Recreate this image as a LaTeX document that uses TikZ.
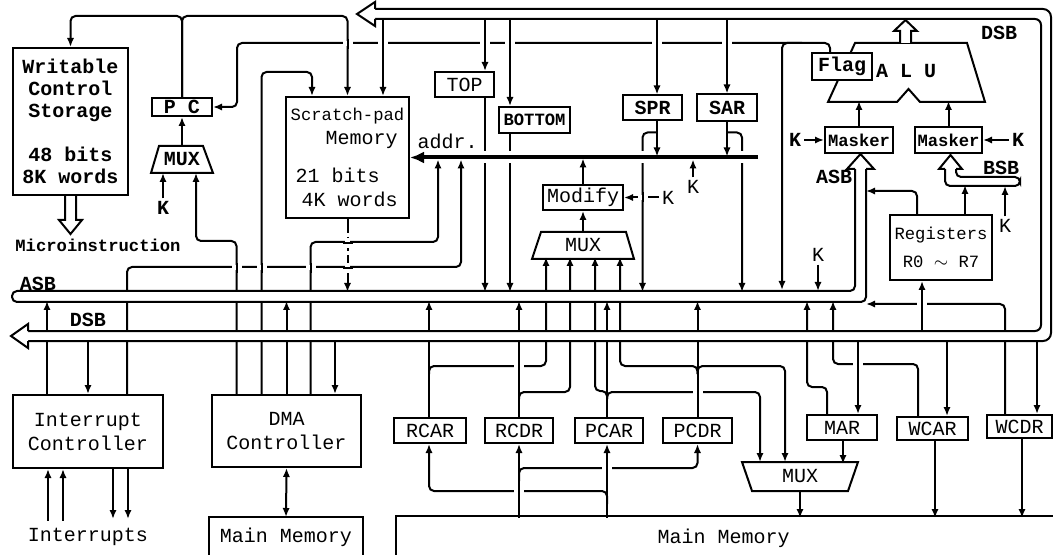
\documentclass[tikz,border=0pt]{standalone}
\usepackage{fontspec}
\setmainfont{Liberation Mono}
\usetikzlibrary{arrows.meta,calc}
\newcommand{\smf}{\fontsize{8.6}{10}\selectfont}
% gaps where two lines cross without joining
\newcommand{\vover}[1]{\fill[white] ($(#1)+(-5,-2.5)$) rectangle ($(#1)+(5,2.5)$);
  \draw ($(#1)+(0,-5)$) -- ($(#1)+(0,5)$);}
\newcommand{\hover}[1]{\fill[white] ($(#1)+(-2.5,-5)$) rectangle ($(#1)+(2.5,5)$);
  \draw ($(#1)+(-5,0)$) -- ($(#1)+(5,0)$);}

\begin{document}
\begin{tikzpicture}[x=0.5pt, y=-0.5pt, line width=1pt, >={Latex[length=4.5pt,width=3.6pt]},
    b/.style={draw, inner sep=0pt, align=center},
    nb/.style={inner sep=0pt, align=center},
    kk/.style={inner sep=1pt, font=\bfseries},
    lk/.style={rounded corners=2.5pt}]
  \useasboundingbox (0,0) rectangle (1053,555);
  \coordinate (asbT) at (0,291);
  \coordinate (bsbB) at (0,186);
  \coordinate (adrB) at (0,159.5);

  % control side
  \node[b, minimum width=57.5pt, minimum height=73.5pt, font=\bfseries\fontsize{10}{11}\selectfont] (wcs) at (70.5,121.5)
    {Writable\\ Control\\ Storage\\[11pt] 48 bits\\ 8K words};
  \node[nb, font=\smf\bfseries] (mi) at (98,245) {Microinstruction};
  \node[b, minimum width=30pt, minimum height=9pt, font=\bfseries] (pc) at (182,107) {P C};
  \node[nb, minimum width=30pt, minimum height=12.5pt, font=\bfseries] (mux1) at (182,159.5) {MUX};
  \node[kk] (k1) at (163,208) {K};
  \node[b, minimum width=61.5pt, minimum height=60.5pt, align=left] (sp) at (347.5,157.5)
    {\smf Scratch-pad\\\hspace*{17.5pt}Memory\\[7pt]\normalsize\hspace*{2.5pt}21 bits\\\hspace*{5.5pt}4K words};
  \node[nb] (addr) at (447.5,141) {addr.};
  \node[b, minimum width=29.5pt, minimum height=12.5pt] (topreg) at (464.5,84.5) {TOP};
  \node[b, minimum width=35.5pt, minimum height=13pt, font=\smf\bfseries] (botreg) at (534.5,120) {BOTTOM};
  \node[b, minimum width=29.5pt, minimum height=12.5pt, font=\bfseries] (spr) at (652.5,108) {SPR};
  \node[b, minimum width=30pt, minimum height=13.5pt, font=\bfseries] (sar) at (727,108) {SAR};
  \node[b, minimum width=40pt, minimum height=12.5pt] (modify) at (583,197.5) {Modify};
  \node[nb, minimum width=50pt, minimum height=12.5pt] (mux2) at (583,245.5) {MUX};
  \node[kk, font=\normalfont] (k2) at (668,197.5) {K};
  \node[kk, font=\normalfont] (k3) at (693,187) {K};

  % ALU side
  \node[nb, font=\bfseries] (alu) at (906,71) {A L U};
  \draw (855,43) -- (967,43) -- (985,102) -- (920,102) -- (908.5,89) -- (897,102) -- (828,102) -- cycle;
  \node[b, fill=white, minimum width=30pt, minimum height=13.5pt, font=\bfseries] (flag) at (842,66.5) {Flag};
  \node[b, minimum width=34pt, minimum height=13pt, font=\smf\bfseries] (maskL) at (859,140) {Masker};
  \node[b, minimum width=33.5pt, minimum height=13pt, font=\smf\bfseries] (maskR) at (948.5,140) {Masker};
  \node[kk] (k4) at (795,140) {K};
  \node[kk] (k6) at (1018,140) {K};
  \node[b, minimum width=51pt, minimum height=32.5pt, font=\smf] (regs) at (941,247.5) {Registers\\[4pt]R0 $\sim$ R7};
  \node[kk, font=\normalfont] (k7) at (1005,226) {K};
  \node[kk, font=\normalfont] (k5) at (818,255) {K};

  % bus names
  \node[nb, font=\bfseries] (asbL) at (38,284) {ASB};
  \node[nb, font=\bfseries] (dsbL) at (88,320) {DSB};
  \node[nb, font=\bfseries] (dsbR) at (999,33) {DSB};
  \node[nb, font=\bfseries] (asbR) at (834,177) {ASB};
  \node[nb, font=\bfseries] (bsb) at (1001,168) {BSB};

  % lower part
  \node[b, minimum width=75pt, minimum height=36.5pt] (ic) at (88,431.5) {Interrupt\\Controller};
  \node[b, minimum width=74.5pt, minimum height=36pt] (dma) at (286.5,431) {DMA\\Controller};
  \node[nb] (intr) at (88,537) {Interrupts};
  \node[nb, minimum width=76pt, minimum height=19.5pt] (mm1) at (286,537.5) {Main Memory};
  \node[nb, minimum width=331.5pt, minimum height=21.5pt] (mm2) at (728.5,538.5) {Main Memory\hspace*{5pt}};
  \node[b, minimum width=36pt, minimum height=12.5pt] (rcar) at (430,430.5) {RCAR};
  \node[b, minimum width=34pt, minimum height=12.5pt] (rcdr) at (519,430.5) {RCDR};
  \node[b, minimum width=34pt, minimum height=12.5pt] (pcar) at (609,430.5) {PCAR};
  \node[b, minimum width=34.5pt, minimum height=12.5pt] (pcdr) at (697.5,430.5) {PCDR};
  \node[b, minimum width=35pt, minimum height=12.5pt] (mar) at (842,427.5) {MAR};
  \node[b, minimum width=35.5pt, minimum height=11.5pt] (wcar) at (932.5,428.5) {WCAR};
  \node[b, minimum width=32.5pt, minimum height=11.5pt] (wcdr) at (1019.5,426.5) {WCDR};
  \node[nb, minimum width=57pt, minimum height=13.5pt] (mux3) at (800,476.5) {MUX};

  % outlines
  \draw (mux1.south west) -- ($(mux1.north west)+(8,0)$) -- ($(mux1.north east)+(-10,0)$) -- (mux1.south east) -- cycle;
  \draw (mux2.south west) -- ($(mux2.north west)+(9,0)$) -- ($(mux2.north east)+(-8,0)$) -- (mux2.south east) -- cycle;
  \draw (mux3.north west) -- (mux3.north east) -- ($(mux3.south east)+(-10,0)$) -- ($(mux3.south west)+(10,0)$) -- cycle;
  \draw (mm1.south west) -- (mm1.north west) -- (mm1.north east) -- (mm1.south east);
  \draw (mm2.south west) -- (mm2.north west) -- (mm2.north east);
  \draw ($(wcs.south)+(-5.5,0)$) -- ++(0,24) -- ++(-6,0) -- ($(wcs.south)+(0,38)$) -- ++(11.5,-14) -- ++(-6,0) -- ++(0,-24);
  \draw[fill=white] ($(alu)+(-6,-28)$) -- ++(0,-12) -- ++(-6,0) -- ++(11.5,-11) -- ++(11.5,11) -- ++(-6,0) -- ++(0,12);

  % program counter and scratch-pad
  \draw[->, lk] (pc.north) -- ++(0,-81) -| (wcs.north);
  \draw[->, lk] (pc.north) -- ++(0,-81) -| (sp.north);
  \draw[->] (mux1.north) -- (pc.south);
  \draw[->] (k1) -- (k1 |- mux1.south);
  \draw[->, lk] ($(dma.north)+(-50,0)$) -- ++(0,-153) -| ($(mux1.south)+(14,0)$);
  \draw[->, lk] ($(dma.north)+(-25,0)$) -- ++(0,-322) -| ($(sp.north)+(-35.5,0)$);
  \draw[->, lk] ($(flag.north)+(-12,0)$) -- ++(0,-9) -- ++(-593,0) |- (pc.east);
  \draw[->, lk] ($(flag.north)+(-40,-9)$) -- ++(-20,0) -- ++(0,247);
  \draw[<-] ($(sp.north)+(35.5,0)$) -- ++(0,-78);
  \draw[<-] ($(topreg.north)+(20.5,0)$) -- ++(0,-53);
  \draw[<-] ($(botreg.north)+(-24.5,0)$) -- ++(0,-88);
  \draw[<-] ($(spr.north)+(4.5,0)$) -- ++(0,-76.5);
  \draw[<-] (sar.north) -- ++(0,-75.5);
  \draw[->] ($(topreg.south)+(20.5,0)$) -- ++(0,194);
  \draw[->] ($(botreg.south)+(-24.5,0)$) -- ++(0,158);
  \draw[->, lk] ($(spr.south)+(4.5,11)$) -- ++(-14.5,0) -- ++(0,159.5);
  \draw[->, lk] ($(sar.south)+(0,10)$) -- ++(15,0) -- ++(0,159.5);

  % address bus
  \draw[line width=2pt, -{Latex[length=7pt,width=6pt]},
    preaction={draw=white, line width=6pt, -, shorten >=10pt, shorten <=2pt}] (758,157.5) -- (sp.east);
  \draw[->, lk] ($(dma.north)+(24,0)$) -- ++(0,-152) -| ($(sp.east)+(28,2)$);
  \draw[->, lk] ($(ic.north)+(39,0)$) -- ++(0,-127) -| ($(sp.east)+(51,2)$);
  \draw[->] (modify.north) -- ++(0,-25.5);
  \draw[->] (mux2.north) -- (modify.south);
  \draw[->] (k2) -- (modify.east);
  \draw[->] (k3) -- (k3 |- adrB);
  \draw[->] ($(spr.south)+(4.5,0)$) -- ++(0,35);
  \draw[->] (sar.south) -- ++(0,34);
  \draw[->, dash pattern=on 7pt off 2pt] (sp.south) -- ++(0,73);
  \draw[->] (k5) -- (k5 |- asbT);

  % ALU inputs
  \draw[->] (maskL.north) -- ++(0,-25);
  \draw[->] (maskR.north) -- ++(0,-25);
  \draw[->] (k4) -- (maskL);
  \draw[->] (k6) -- (maskR);
  \draw[->, lk] ($(regs.north)+(-24,0)$) -- ++(0,-23) -- ++(-51,0);
  \draw[->] ($(regs.north)+(24,0)$) -- ++(0,-29);
  \draw[->] (k7) -- (k7 |- bsbB);
  \draw[<-] ($(regs.south)+(-19,0)$) -- ++(0,51);

  % interrupt and DMA
  \draw[->] ($(ic.north)+(-41,0)$) -- ++(0,-93);
  \draw[<-] (ic.north) -- ++(0,-54);
  \draw[<-] ($(ic.south)+(-40,0)$) -- ++(0,52);
  \draw[<-] ($(ic.south)+(-25,0)$) -- ++(0,52);
  \draw[->] ($(ic.south)+(25,0)$) -- ++(0,50);
  \draw[->] ($(ic.south)+(40,0)$) -- ++(0,50);
  \draw[->] (dma.north) -- ++(0,-93);
  \draw[<-] ($(dma.north)+(48.5,0)$) -- ++(0,-54);
  \draw[<->] (dma.south) -- (mm1.north);

  % cache and memory registers
  \draw[->] ($(rcar.north)+(-1,0)$) -- ++(0,-116);
  \draw[->, lk] ($(rcar.north)+(-1,-43)$) -- ++(0,-8) -- ++(117,0) -- ++(0,-109);
  \draw[->] (rcdr.north) -- ++(0,-116);
  \draw[->, lk] ($(rcdr.north)+(0,-18)$) -- ++(0,-7) -- ++(51,0) -- ++(0,-135);
  \draw[->] ($(pcar.north)+(-2,0)$) -- ++(0,-116);
  \draw[->, lk] ($(pcar.north)+(-2,-18)$) -- ++(0,-8) -- ++(-12,0) -- ++(0,-134);
  \draw[->, lk] ($(pcar.north)+(-2,-18)$) -- ++(0,-7) -- ++(153,0) -- ++(0,70);
  \draw[->] (pcdr.north) -- ++(0,-116);
  \draw[->, lk] ($(pcdr.north)+(0,-43)$) -- ++(0,-8) -- ++(-77.5,0) -- ++(0,-109);
  \draw[->, lk] ($(pcdr.north)+(0,-43)$) -- ++(0,-8) -- ++(87.5,0) -- ++(0,96);
  \draw[<-] ($(mar.north)+(16,0)$) -- ++(0,-74);
  \draw[->, lk] ($(mar.north)+(-15,0)$) -- ++(0,-27) -- ++(-20,0) -- ++(0,-86);
  \draw[->] ($(mar.south)+(1,0)$) -- ++(0,23);
  \draw[<-] ($(wcar.north)+(14.5,0)$) -- ++(0,-76);
  \draw[->, lk] ($(wcar.north)+(-14.5,0)$) -- ++(0,-52) -- ++(-85,0) -- ++(0,-63);
  \draw[->] ($(wcar.south)+(2.5,0)$) -- ++(0,77);
  \draw[<-] ($(wcdr.north)+(17.5,0)$) -- ++(0,-74);
  \draw[->, lk] ($(wcdr.north)+(-14.5,0)$) -- ++(0,-110) -- ++(-139,0);
  \draw[->] ($(wcdr.south)+(2.5,0)$) -- ++(0,79);
  \draw[->] (mux3.south) -- ++(0,27);
  \draw[<-] (rcdr.south) -- ++(0,74);
  \draw[<-] ($(pcar.south)+(-2,0)$) -- ++(0,74);
  \draw[->, lk] ($(rcdr.south)+(0,37)$) -- ++(0,-13) -- ++(178.5,0) -- ++(0,-24);
  \draw[->, lk] ($(pcar.south)+(-2,60)$) -- ++(0,-13) -- ++(-178,0) -- ++(0,-47);

  % crossings
  \vover{347.5,44} \vover{383,44} \vover{485,44} \vover{510,44} \vover{657,44} \vover{727,44}
  \vover{236.5,268} \vover{261.5,268} \vover{310.5,268}
  \hover{347.5,243} \hover{347.5,268}
  \vover{642.5,197.5}
  \vover{519,367} \vover{697.5,393} \vover{858,365} \vover{922,305}
  \vover{519,490} \vover{607,467}

  % ASB
  \fill[white] (12,291) rectangle (866,302) (855,169) rectangle (866,302);
  \draw[rounded corners=2.5pt] (855,169) -- (855,291) -- (12,291) -- (12,302) -- (866,302) -- (866,169);
  \draw[fill=white] (855,169) -- (847,169) -- (860.5,154) -- (874,169) -- (866,169);
  % DSB
  \fill[white] (375,9) rectangle (1051,19) (1041,9) rectangle (1051,341) (28,331) rectangle (1051,341);
  \draw[rounded corners=4pt] (375,9) -- (1051,9) -- (1051,341) -- (28,341);
  \draw[rounded corners=3pt] (28,331) -- (1041,331) -- (1041,19) -- (375,19);
  \draw[fill=white] (375,9) -- (375,2) -- (357,14) -- (375,26) -- (375,19);
  \draw[fill=white] (28,331) -- (28,324) -- (11,336) -- (28,348) -- (28,341);
  % BSB
  \fill[white] (945,169) rectangle (956,186) (945,177) rectangle (1020,186);
  \draw[rounded corners=2.5pt] (945,169) -- (945,186) -- (1020,186) -- (1020,177) -- (956,177) -- (956,169);
  \draw[fill=white] (945,169) -- (939,169) -- (950.5,155) -- (962,169) -- (956,169);
\end{tikzpicture}
\end{document}
